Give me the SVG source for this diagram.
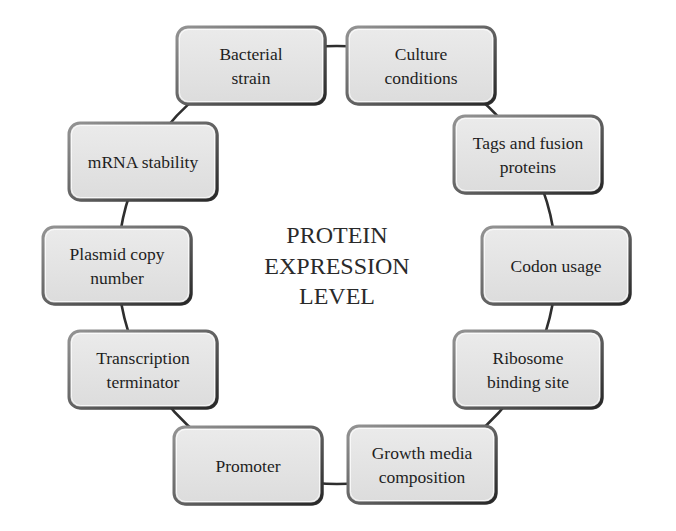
<svg xmlns="http://www.w3.org/2000/svg" width="676" height="531" viewBox="0 0 676 531">
<style>
.conn{fill:none;stroke:#2e2e2e;stroke-width:2.6}
.shadow{fill:#3a3a3a}
.box{fill:url(#fillg);stroke:url(#edge);stroke-width:3}
.hl{fill:none;stroke:#ffffff;stroke-opacity:0.75;stroke-width:1}
.t{font-family:"Liberation Serif","Times New Roman",serif;font-size:17.5px;fill:#1e1e1e;text-anchor:middle}
.c{font-family:"Liberation Serif","Times New Roman",serif;font-size:24px;fill:#2a2a2a;text-anchor:middle}
</style>
<defs>
<linearGradient id="fillg" x1="0" y1="0" x2="0" y2="1">
<stop offset="0" stop-color="#ebebeb"/>
<stop offset="1" stop-color="#dcdcdc"/>
</linearGradient>
<linearGradient id="edge" x1="0" y1="0" x2="1" y2="1">
<stop offset="0" stop-color="#949494"/>
<stop offset="0.5" stop-color="#636363"/>
<stop offset="1" stop-color="#262626"/>
</linearGradient>
</defs>
<rect width="676" height="531" fill="#ffffff"/>
<g id="connectors">
<path class="conn" d="M249.7 64.2 A219 219 0 0 1 422.6 63.4"/>
<path class="conn" d="M422.6 63.4 A219 219 0 0 1 524.7 152.2"/>
<path class="conn" d="M524.7 152.2 A219 219 0 0 1 556 265"/>
<path class="conn" d="M556 265 A219 219 0 0 1 530.4 367.8"/>
<path class="conn" d="M530.4 367.8 A219 219 0 0 1 426.1 465.1"/>
<path class="conn" d="M426.1 465.1 A219 219 0 0 1 247.9 465.1"/>
<path class="conn" d="M247.9 465.1 A219 219 0 0 1 143.6 367.8"/>
<path class="conn" d="M143.6 367.8 A219 219 0 0 1 118 265"/>
<path class="conn" d="M118 265 A219 219 0 0 1 145.5 158.8"/>
<path class="conn" d="M145.5 158.8 A219 219 0 0 1 249.7 64.2"/>
</g>
<g id="center-label">
<text class="c" x="337" y="243">PROTEIN</text>
<text class="c" x="337" y="274">EXPRESSION</text>
<text class="c" x="337" y="304">LEVEL</text>
</g>
<g id="bacterial-strain">
<rect class="shadow" x="178.5" y="28.5" width="148" height="77" rx="11"/>
<rect class="box" x="177" y="27" width="148" height="77" rx="11"/>
<rect class="hl" x="179.5" y="29.5" width="143" height="72" rx="9"/>
<text class="t" x="251" y="59.5">Bacterial</text>
<text class="t" x="251" y="83.5">strain</text>
</g>
<g id="culture-conditions">
<rect class="shadow" x="348.5" y="28.5" width="148" height="77" rx="11"/>
<rect class="box" x="347" y="27" width="148" height="77" rx="11"/>
<rect class="hl" x="349.5" y="29.5" width="143" height="72" rx="9"/>
<text class="t" x="421" y="59.5">Culture</text>
<text class="t" x="421" y="83.5">conditions</text>
</g>
<g id="tags-fusion">
<rect class="shadow" x="455.5" y="117.5" width="148" height="77" rx="11"/>
<rect class="box" x="454" y="116" width="148" height="77" rx="11"/>
<rect class="hl" x="456.5" y="118.5" width="143" height="72" rx="9"/>
<text class="t" x="528" y="148.5">Tags and fusion</text>
<text class="t" x="528" y="172.5">proteins</text>
</g>
<g id="codon-usage">
<rect class="shadow" x="483.5" y="228.5" width="148" height="77" rx="11"/>
<rect class="box" x="482" y="227" width="148" height="77" rx="11"/>
<rect class="hl" x="484.5" y="229.5" width="143" height="72" rx="9"/>
<text class="t" x="556" y="272">Codon usage</text>
</g>
<g id="ribosome-binding-site">
<rect class="shadow" x="455.5" y="332.5" width="148" height="77" rx="11"/>
<rect class="box" x="454" y="331" width="148" height="77" rx="11"/>
<rect class="hl" x="456.5" y="333.5" width="143" height="72" rx="9"/>
<text class="t" x="528" y="363.5">Ribosome</text>
<text class="t" x="528" y="387.5">binding site</text>
</g>
<g id="growth-media">
<rect class="shadow" x="349.5" y="427.5" width="148" height="77" rx="11"/>
<rect class="box" x="348" y="426" width="148" height="77" rx="11"/>
<rect class="hl" x="350.5" y="428.5" width="143" height="72" rx="9"/>
<text class="t" x="422" y="458.5">Growth media</text>
<text class="t" x="422" y="482.5">composition</text>
</g>
<g id="promoter">
<rect class="shadow" x="175.5" y="428.5" width="148" height="77" rx="11"/>
<rect class="box" x="174" y="427" width="148" height="77" rx="11"/>
<rect class="hl" x="176.5" y="429.5" width="143" height="72" rx="9"/>
<text class="t" x="248" y="471.5">Promoter</text>
</g>
<g id="transcription-terminator">
<rect class="shadow" x="70.5" y="332.5" width="148" height="77" rx="11"/>
<rect class="box" x="69" y="331" width="148" height="77" rx="11"/>
<rect class="hl" x="71.5" y="333.5" width="143" height="72" rx="9"/>
<text class="t" x="143" y="363.5">Transcription</text>
<text class="t" x="143" y="387.5">terminator</text>
</g>
<g id="plasmid-copy-number">
<rect class="shadow" x="44.5" y="228.5" width="148" height="77" rx="11"/>
<rect class="box" x="43" y="227" width="148" height="77" rx="11"/>
<rect class="hl" x="45.5" y="229.5" width="143" height="72" rx="9"/>
<text class="t" x="117" y="259.5">Plasmid copy</text>
<text class="t" x="117" y="283.5">number</text>
</g>
<g id="mrna-stability">
<rect class="shadow" x="70.5" y="124.5" width="148" height="77" rx="11"/>
<rect class="box" x="69" y="123" width="148" height="77" rx="11"/>
<rect class="hl" x="71.5" y="125.5" width="143" height="72" rx="9"/>
<text class="t" x="143" y="168">mRNA stability</text>
</g>
</svg>
